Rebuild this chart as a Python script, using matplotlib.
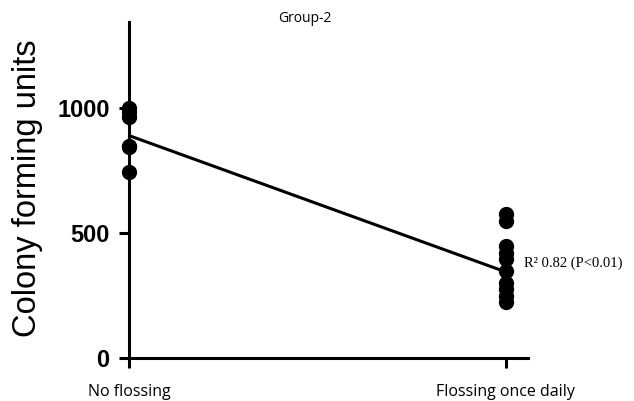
import matplotlib
matplotlib.use("Agg")
import matplotlib.pyplot as plt
import matplotlib.transforms as mtransforms
import numpy as np

GROUPS = ["No flossing", "Flossing once daily"]
NO_FLOSS = [1000, 985, 965, 850, 845, 745]
FLOSS = [575, 550, 450, 420, 395, 350, 300, 275, 250, 225]
FIT = [890, 345]
Y_TICKS = [0, 500, 1000]

fig = plt.figure(figsize=(6.34, 4.01), dpi=100)
ax = fig.add_axes([0.2035, 0.107, 0.6295, 0.838])

for i, vals in enumerate([NO_FLOSS, FLOSS]):
    ax.plot(np.full(len(vals), i), vals, "o", color="black", ms=10, clip_on=False, zorder=3)
ax.plot([0, 1], FIT, color="black", lw=2.2, zorder=2)

ax.set_xlim(0, 1.06)
ax.set_ylim(0, 1344)
ax.set_xticks([0, 1])
ax.set_xticklabels(GROUPS, family="Open Sans", fontsize=11.5)
lbl = ax.get_xticklabels()[0]
lbl.set_transform(lbl.get_transform() +
                  mtransforms.ScaledTranslation(-7 / 100, 0, fig.dpi_scale_trans))
lbl = ax.get_xticklabels()[1]
lbl.set_transform(lbl.get_transform() +
                  mtransforms.ScaledTranslation(-4 / 100, 0, fig.dpi_scale_trans))
ax.set_yticks(Y_TICKS)
ax.set_yticklabels([str(v) for v in Y_TICKS], family="Liberation Sans",
                   fontweight="bold", fontsize=17)
ax.tick_params(axis="x", length=7, width=2.2, pad=12)
ax.tick_params(axis="y", length=7, width=2.2, pad=7)
for s in ("top", "right"):
    ax.spines[s].set_visible(False)
for s in ("left", "bottom"):
    ax.spines[s].set_linewidth(2.2)

fig.text(0.043, 0.53, "Colony forming units", family="Liberation Sans", fontsize=23.5,
         rotation=90, ha="center", va="center")
fig.text(0.481, 0.955, "Group-2", family="Open Sans", fontsize=10, ha="center", va="center")
ax.text(1.05, 380, "R² 0.82 (P<0.01)", family="Liberation Serif", fontsize=10.5,
        ha="left", va="center", clip_on=False)

fig.savefig("out.png", dpi=100)
